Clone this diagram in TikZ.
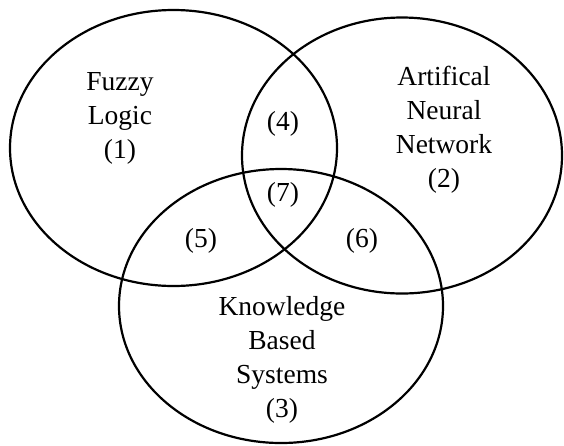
\documentclass[tikz,border=0pt]{standalone}
\usepackage{fontspec}
\setmainfont{Liberation Serif}
\begin{document}
\begin{tikzpicture}[x=1pt,y=-1pt,line width=2.2pt,
  every node/.style={align=center,inner sep=0pt,font=\fontsize{27.5}{34}\selectfont}]
\useasboundingbox (0,0) rectangle (564,445);
\draw (173.5,148) ellipse [x radius=163.5,y radius=138];
\draw (402,155.5) ellipse [x radius=160,y radius=138];
\draw (281,306) ellipse [x radius=162,y radius=137];
\node (fl) at (120,118) {Fuzzy\\Logic\\(1)};
\node (ann) at (444,129.5) {Artifical\\Neural\\Network\\(2)};
\node (kbs) at (282,359.5) {Knowledge\\Based\\Systems\\(3)};
\node (r4) at (283,124) {(4)};
\node (r7) at (283,195) {(7)};
\node (r5) at (201,241) {(5)};
\node (r6) at (362,241) {(6)};
\end{tikzpicture}
\end{document}
